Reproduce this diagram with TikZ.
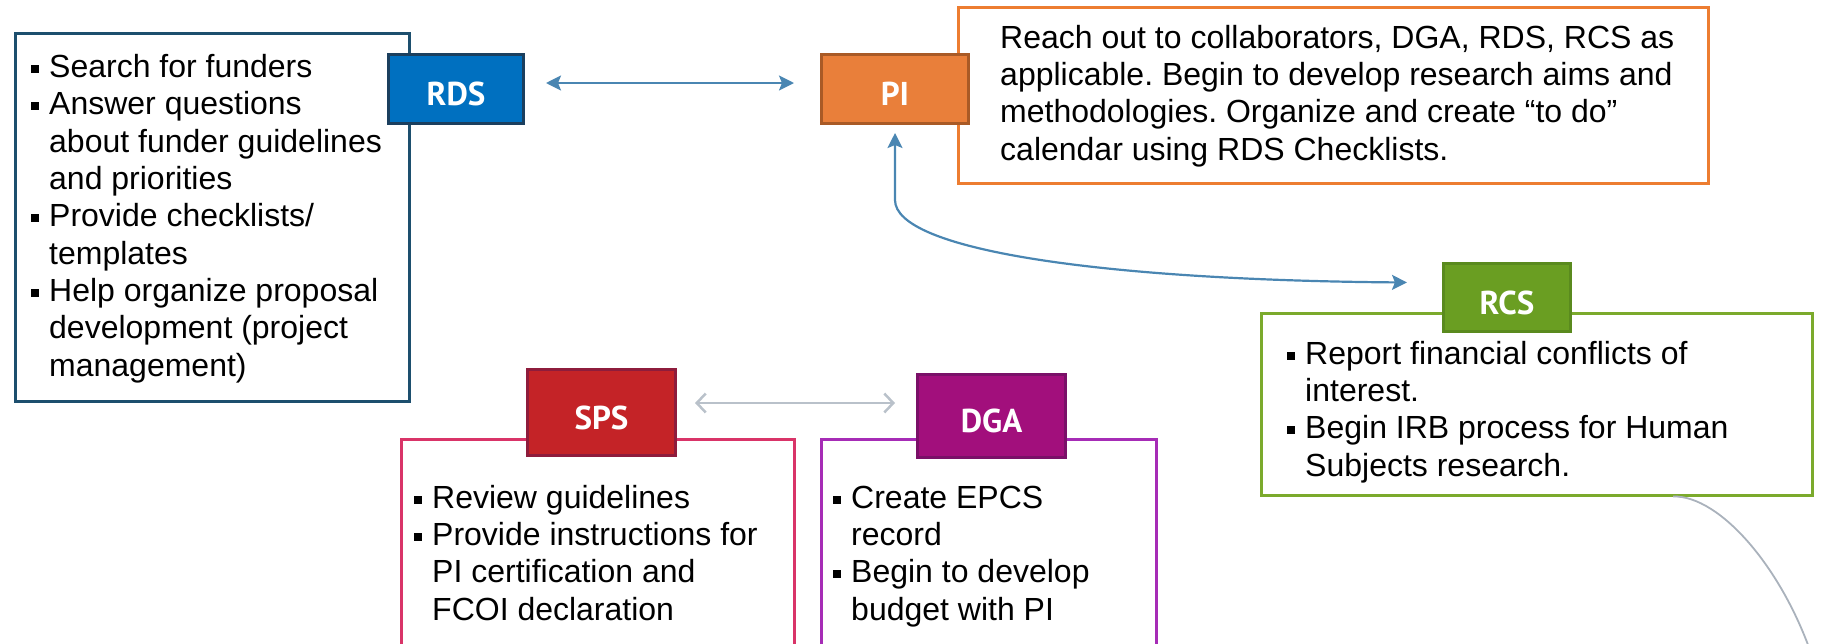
\documentclass[tikz,border=0pt]{standalone}
\usepackage{fontspec}
\setmainfont{Liberation Sans}
\newfontfamily\tagfont{PT Sans}
\usetikzlibrary{arrows.meta, calc}
\frenchspacing

\definecolor{rdsblue}{HTML}{0070C0}
\definecolor{rdsdark}{HTML}{1B3F5E}
\definecolor{rdsline}{HTML}{1D4F6E}
\definecolor{piorange}{HTML}{E97F3A}
\definecolor{pidark}{HTML}{A95A26}
\definecolor{piline}{HTML}{ED7D31}
\definecolor{rcsgreen}{HTML}{6A9E22}
\definecolor{rcsdark}{HTML}{5A8A1E}
\definecolor{rcsline}{HTML}{7BAA2C}
\definecolor{spsred}{HTML}{C42327}
\definecolor{spsdark}{HTML}{8E1C3C}
\definecolor{spsline}{HTML}{D93468}
\definecolor{dgapurple}{HTML}{A20F7C}
\definecolor{dgadark}{HTML}{7A1068}
\definecolor{dgaline}{HTML}{A62CB6}
\definecolor{linkblue}{HTML}{4A86B2}
\definecolor{linkgrey}{HTML}{B9C1CA}
\definecolor{curvegrey}{HTML}{AAB2BC}

\newcommand{\bul}{\makebox[18pt][l]{\rule[4.5pt]{8pt}{8pt}}}
\newcommand{\ind}{\hspace*{18pt}}

\begin{document}
\begin{tikzpicture}[x=1pt,y=-1pt,
  textbox/.style={draw, line width=3pt, inner sep=0pt},
  tag/.style={draw, line width=3pt, text=white, inner sep=0pt,
    font=\tagfont\bfseries\fontsize{33pt}{33pt}\selectfont,
    text height=33pt, text depth=0pt},
  body/.style={anchor=base west, align=left, inner sep=0pt,
    font=\fontsize{32pt}{37.3pt}\selectfont},
  bluelink/.style={linkblue, line width=2.2pt,
    arrows={Stealth[length=15pt,width=15pt,inset=3pt]-Stealth[length=15pt,width=15pt,inset=3pt]}},
  greylink/.style={linkgrey, line width=2.5pt,
    arrows={Straight Barb[length=9pt,width=19pt]-Straight Barb[length=9pt,width=19pt]}}]

  \useasboundingbox (0,0) rectangle (1833,643);
  \clip (0,0) rectangle (1833,643);

  % text boxes
  \node (rdsbox) [textbox, rdsline, minimum width=394pt, minimum height=368pt] at (212,217) {};
  \node (pibox)  [textbox, piline,  minimum width=750pt, minimum height=176pt] at (1333,95) {};
  \node (rcsbox) [textbox, rcsline, minimum width=551pt, minimum height=182pt] at (1536.5,404) {};
  \node (spsbox) [textbox, spsline, minimum width=393pt, minimum height=241pt] at (597.5,559.5) {};
  \node (dgabox) [textbox, dgaline, minimum width=335pt, minimum height=241pt] at (988.5,559.5) {};

  % tags
  \node (rds) [tag, fill=rdsblue,   draw=rdsdark, minimum width=135pt, minimum height=69pt] at (456,89) {RDS};
  \node (pi)  [tag, fill=piorange,  draw=pidark,  minimum width=147pt, minimum height=69pt] at (895,89) {PI};
  \node (rcs) [tag, fill=rcsgreen,  draw=rcsdark, minimum width=127pt, minimum height=68pt] at (1507,297.5) {RCS};
  \node (sps) [tag, fill=spsred,    draw=spsdark, minimum width=148pt, minimum height=86pt] at (601.5,412.5) {SPS};
  \node (dga) [tag, fill=dgapurple, draw=dgadark, minimum width=148pt, minimum height=83pt] at (991.5,416) {DGA};

  % box texts (placed by the baseline of their last line)
  \node (rdstext) [body] at (31,376) {\bul Search for funders\\ \bul Answer questions\\ \ind about funder guidelines\\
    \ind and priorities\\ \bul Provide checklists/\\ \ind templates\\ \bul Help organize proposal\\
    \ind development (project\\ \ind management)};
  \node (pitext) [body] at (1000,160) {Reach out to collaborators, DGA, RDS, RCS as\\
    applicable. Begin to develop research aims and\\ methodologies. Organize and create “to do”\\
    calendar using RDS Checklists.};
  \node (rcstext) [body] at (1287,476) {\bul Report financial conflicts of\\ \ind interest.\\
    \bul Begin IRB process for Human\\ \ind Subjects research.};
  \node (spstext) [body] at (414,620) {\bul Review guidelines\\ \bul Provide instructions for\\
    \ind PI certification and\\ \ind FCOI declaration};
  \node (dgatext) [body] at (833,620) {\bul Create EPCS\\ \ind record\\ \bul Begin to develop\\
    \ind budget with PI};

  % links
  \draw [bluelink, shorten <=21pt, shorten >=26pt] ([yshift=6pt]rds.east) -- ([yshift=6pt]pi.west);
  \draw [bluelink, shorten <=8pt] (pi.south) -- ++(0,75)
    .. controls (895,250) and (1100,280) .. ([xshift=-35pt,yshift=15pt]rcs.west);
  \draw [greylink, shorten <=18pt, shorten >=21pt] ([yshift=9.5pt]sps.east) -- ([yshift=13pt]dga.west);

  \coordinate (offpage) at (1815,665);
  \draw [curvegrey, line width=1.8pt] ([xshift=136.5pt]rcsbox.south) .. controls (1720,495) and (1785,570) .. (offpage);
\end{tikzpicture}
\end{document}
